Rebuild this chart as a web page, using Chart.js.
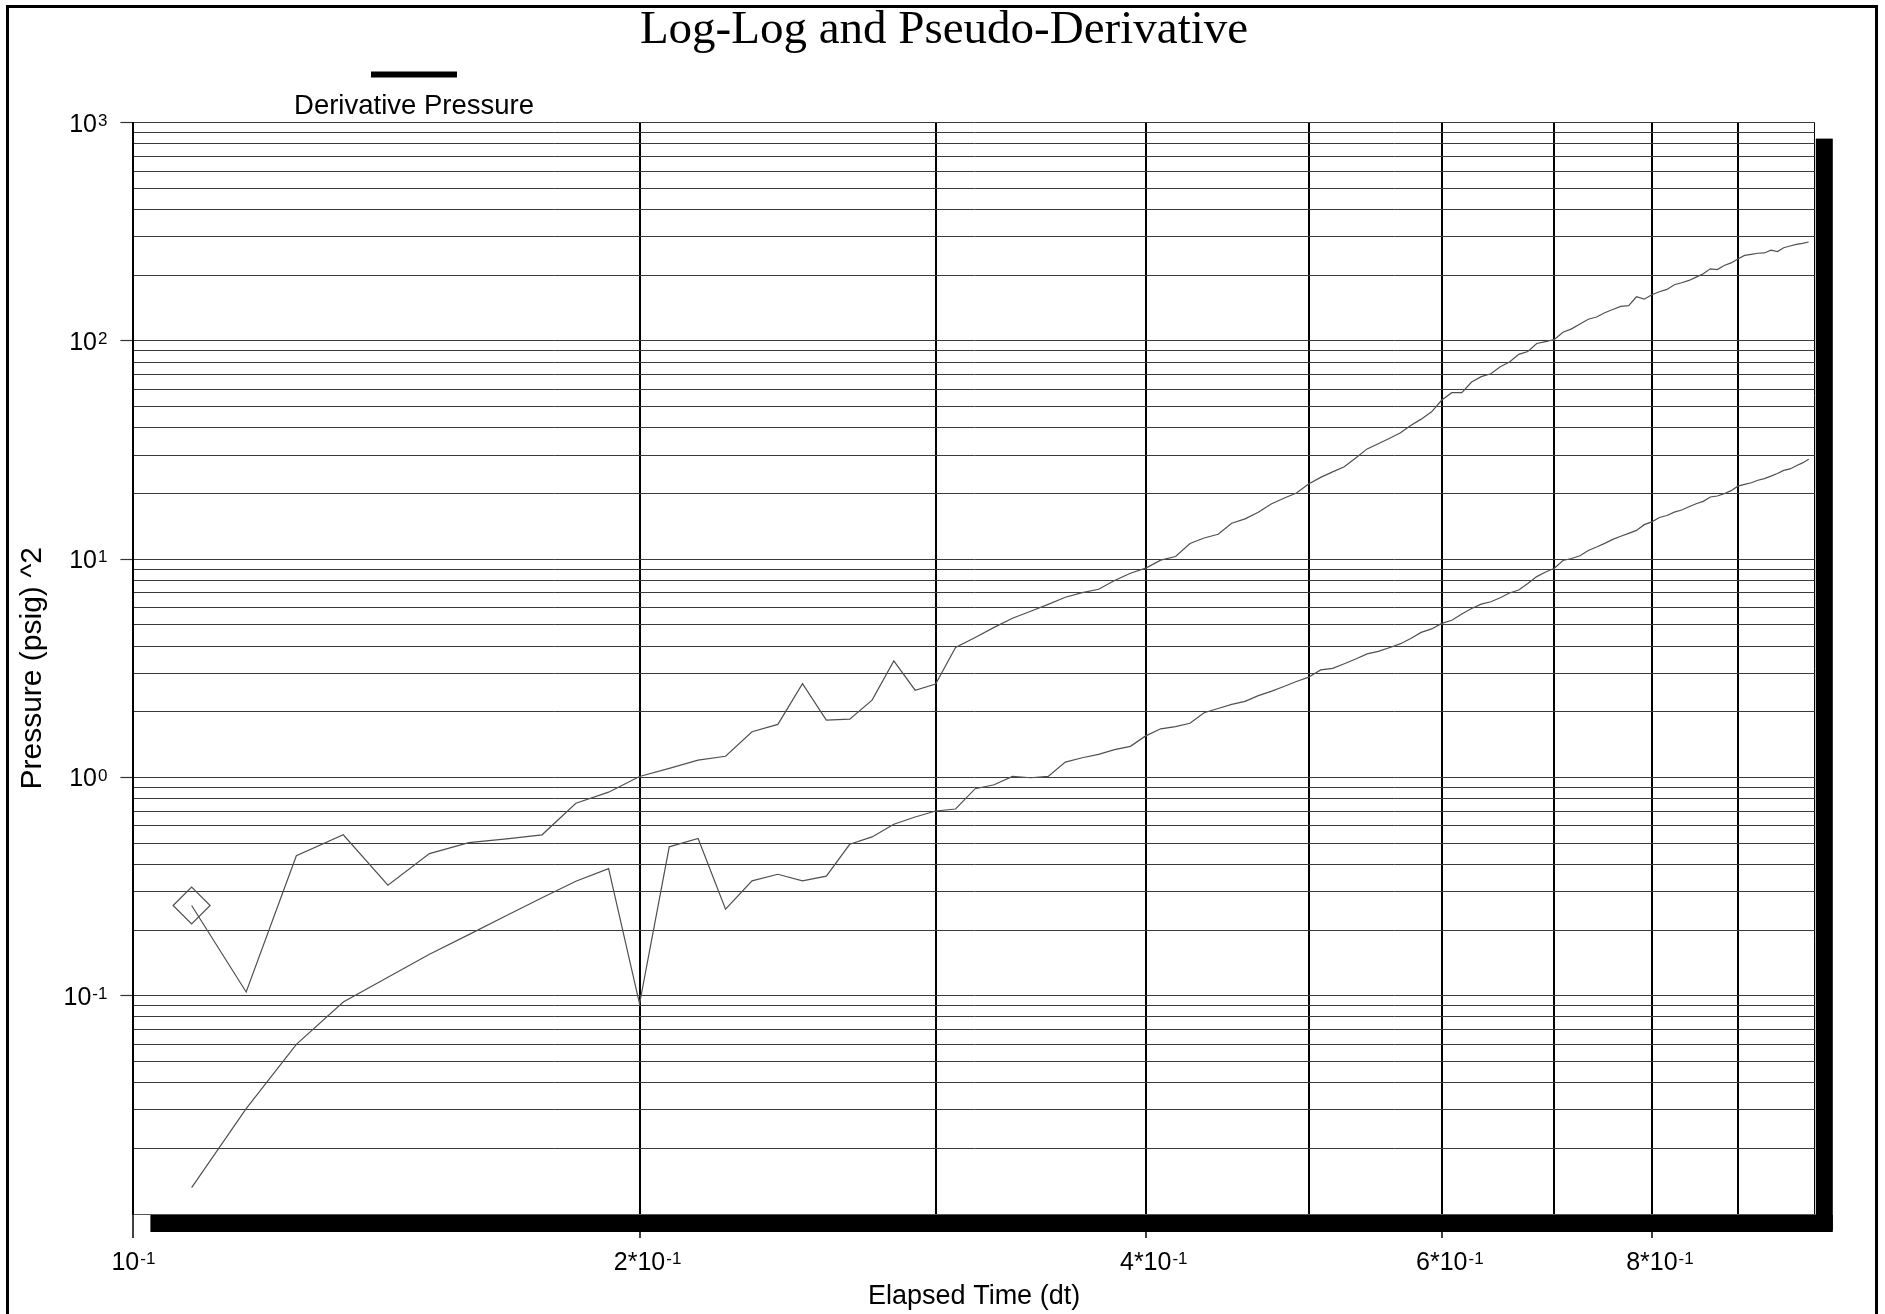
<!DOCTYPE html>
<html>
<head>
<meta charset="utf-8">
<title>Log-Log and Pseudo-Derivative</title>
<script src="https://cdn.jsdelivr.net/npm/chart.js@4.4.1/dist/chart.umd.min.js"></script>
<style>
  html, body { margin: 0; padding: 0; background: #ffffff; }
  canvas { display: block; }
</style>
</head>
<body>
<canvas id="chart" width="1885" height="1314"></canvas>
<script>
// Elapsed time (hours), one reading every 30 s
const elapsedTime = [
  0.1083, 0.1167, 0.1250, 0.1333, 0.1417, 0.1500, 0.1583, 0.1667, 0.1750, 0.1833,
  0.1917, 0.2000, 0.2083, 0.2167, 0.2250, 0.2333, 0.2417, 0.2500, 0.2583, 0.2667,
  0.2750, 0.2833, 0.2917, 0.3000, 0.3083, 0.3167, 0.3250, 0.3333, 0.3417, 0.3500,
  0.3583, 0.3667, 0.3750, 0.3833, 0.3917, 0.4000, 0.4083, 0.4167, 0.4250, 0.4333,
  0.4417, 0.4500, 0.4583, 0.4667, 0.4750, 0.4833, 0.4917, 0.5000, 0.5083, 0.5167,
  0.5250, 0.5333, 0.5417, 0.5500, 0.5583, 0.5667, 0.5750, 0.5833, 0.5917, 0.6000,
  0.6083, 0.6167, 0.6250, 0.6333, 0.6417, 0.6500, 0.6583, 0.6667, 0.6750, 0.6833,
  0.6917, 0.7000, 0.7083, 0.7167, 0.7250, 0.7333, 0.7417, 0.7500, 0.7583, 0.7667,
  0.7750, 0.7833, 0.7917, 0.8000, 0.8083, 0.8167, 0.8250, 0.8333, 0.8417, 0.8500,
  0.8583, 0.8667, 0.8750, 0.8833, 0.8917, 0.9000, 0.9083, 0.9167, 0.9250, 0.9333,
  0.9417, 0.9500, 0.9583, 0.9667, 0.9750, 0.9833, 0.9917
];

// Pressure change (psig)^2
const pressure = [
  0.259, 0.104, 0.438, 0.546, 0.321, 0.448, 0.503, 0.523, 0.546, 0.762,
  0.856, 1.01, 1.10, 1.20, 1.25, 1.62, 1.75, 2.69, 1.83, 1.85,
  2.26, 3.42, 2.51, 2.68, 3.94, 4.38, 4.87, 5.36, 5.77, 6.21,
  6.69, 7.03, 7.28, 7.98, 8.62, 9.10, 9.90, 10.28, 11.8, 12.5,
  13.0, 14.6, 15.3, 16.4, 17.9, 19.0, 20.1, 22.1, 23.7, 25.1,
  26.5, 29.1, 32.0, 33.8, 35.7, 37.8, 41.0, 43.8, 47.3, 53.6,
  57.9, 57.9, 64.8, 68.6, 70.7, 76.1, 80.0, 86.7, 89.4, 97.3,
  99.3, 101.4, 109.6, 113.5, 119.5, 125.6, 128.6, 134.6, 139.3, 143.9,
  144.9, 159.2, 155.3, 162.6, 167.9, 172.1, 180.8, 184.6, 189.2, 195.9,
  202.9, 213.8, 212.3, 221.4, 227.6, 237.3, 246.5, 249.3, 252.0, 252.8,
  260.2, 256.5, 267.2, 272.1, 276.8, 279.8, 283.9
];

// Pseudo-derivative (psig)^2
const derivative = [
  0.0132, 0.0304, 0.0599, 0.0936, 0.1214, 0.155, 0.1905, 0.233, 0.281, 0.3345,
  0.382, 0.0918, 0.481, 0.525, 0.249, 0.336, 0.360, 0.336, 0.353, 0.494,
  0.534, 0.610, 0.659, 0.702, 0.717, 0.888, 0.926, 1.011, 0.997, 1.011,
  1.176, 1.231, 1.276, 1.34, 1.388, 1.55, 1.67, 1.71, 1.77, 1.98,
  2.07, 2.16, 2.23, 2.37, 2.48, 2.61, 2.75, 2.88, 3.11, 3.16,
  3.32, 3.49, 3.68, 3.78, 3.93, 4.09, 4.33, 4.62, 4.79, 5.08,
  5.25, 5.61, 5.94, 6.22, 6.38, 6.66, 7.00, 7.22, 7.74, 8.32,
  8.74, 9.09, 9.86, 10.07, 10.36, 10.96, 11.36, 11.81, 12.32, 12.73,
  13.13, 13.55, 14.39, 14.82, 15.52, 15.85, 16.42, 16.79, 17.38, 17.95,
  18.4, 19.27, 19.47, 19.95, 20.6, 21.6, 22.0, 22.4, 23.0, 23.4,
  24.0, 24.7, 25.5, 25.9, 26.8, 27.6, 28.7
];

// Axis grid and labelled ticks (mantissa part and exponent part)
const xGridValues = [0.1, 0.2, 0.3, 0.4, 0.5, 0.6, 0.7, 0.8, 0.9, 1.0];
const xTickValues = [0.1, 0.2, 0.4, 0.6, 0.8];
const xTickBases = ['10', '2*10', '4*10', '6*10', '8*10'];
const xTickExponents = ['-1', '-1', '-1', '-1', '-1'];
const yDecades = [0.01, 0.1, 1, 10, 100];
const yMantissas = [1, 2, 3, 4, 5, 6, 7, 8, 9];
const yTickValues = [1000, 100, 10, 1, 0.1];
const yTickBases = ['10', '10', '10', '10', '10'];
const yTickExponents = ['3', '2', '1', '0', '-1'];

const chartTitle = 'Log-Log and Pseudo-Derivative';
const legendLabel = 'Derivative Pressure';
const xTitle = 'Elapsed Time (dt)';
const yTitle = 'Pressure (psig) ^2';

const yGridValues = yDecades.flatMap(d => yMantissas.map(m => +(m * d).toPrecision(6))).concat([1000]);

function indexOfTick(list, v) {
  return list.findIndex(t => Math.abs(t - v) <= 1e-9 * t);
}

const SANS = "'Liberation Sans', Arial, sans-serif";
const SERIF = "'Liberation Serif', 'Times New Roman', serif";
const BASE_SIZE = 25;
const EXP_SIZE = 17;

// Draws "base^exp" with the exponent raised to the cap line of the base.
// anchorX is interpreted according to mode: 'right' (right edge of whole label),
// 'center' (centre of whole label) or 'base' (centre of the base part).
function drawPowerLabel(ctx, base, exp, anchorX, capMidY, mode) {
  ctx.font = BASE_SIZE + 'px ' + SANS;
  const wb = ctx.measureText(base).width;
  ctx.font = EXP_SIZE + 'px ' + SANS;
  const we = ctx.measureText(exp).width;
  const gap = 1;
  let left;
  if (mode === 'right') left = anchorX - (wb + gap + we);
  else if (mode === 'base') left = anchorX - wb / 2;
  else left = anchorX - (wb + gap + we) / 2;
  const capB = 0.716 * BASE_SIZE;
  const capE = 0.716 * EXP_SIZE;
  const baseLine = capMidY + capB / 2;
  ctx.textAlign = 'left';
  ctx.textBaseline = 'alphabetic';
  ctx.font = BASE_SIZE + 'px ' + SANS;
  ctx.fillText(base, left, baseLine);
  ctx.font = EXP_SIZE + 'px ' + SANS;
  ctx.fillText(exp, left + wb + gap, baseLine - capB + capE);
}

// Page frame, drop shadow under the plot area, title, legend and tick labels
const framePlugin = {
  id: 'frame',
  beforeDraw(chart) {
    const { ctx, chartArea: a } = chart;
    ctx.save();
    ctx.fillStyle = '#ffffff';
    ctx.fillRect(0, 0, chart.width, chart.height);
    ctx.strokeStyle = '#000000';
    ctx.lineWidth = 3;
    ctx.strokeRect(7.5, 6.5, 1869, 1330);
    ctx.fillStyle = '#000000';
    const off = 17, thick = 17;
    ctx.fillRect(a.right + 1, a.top + 16, thick, a.bottom - a.top);
    ctx.fillRect(a.left + off, a.bottom + 1, a.right - a.left + 1, thick);
    ctx.restore();
  },
  afterDraw(chart) {
    const { ctx, chartArea: a } = chart;
    const xs = chart.scales.x, ys = chart.scales.y;
    ctx.save();
    ctx.fillStyle = '#000000';
    // title
    ctx.font = '47px ' + SERIF;
    ctx.textAlign = 'center';
    ctx.textBaseline = 'alphabetic';
    ctx.fillText(chartTitle, 944, 43);
    // legend swatch and label
    ctx.strokeStyle = '#000000';
    ctx.lineWidth = 6;
    ctx.beginPath();
    ctx.moveTo(371, 74.5);
    ctx.lineTo(457, 74.5);
    ctx.stroke();
    ctx.font = '27.5px ' + SANS;
    ctx.textBaseline = 'middle';
    ctx.fillText(legendLabel, 414, 106);
    // y tick labels
    yTickValues.forEach((v, i) => {
      drawPowerLabel(ctx, yTickBases[i], yTickExponents[i], a.left - 26, ys.getPixelForValue(v), 'right');
    });
    // x tick labels
    xTickValues.forEach((v, i) => {
      const mode = xTickBases[i].indexOf('*') >= 0 ? 'base' : 'center';
      drawPowerLabel(ctx, xTickBases[i], xTickExponents[i], xs.getPixelForValue(v), a.bottom + 47, mode);
    });
    ctx.restore();
  }
};

const lineColor = '#505050';

new Chart(document.getElementById('chart'), {
  type: 'scatter',
  data: {
    datasets: [
      {
        label: 'Pressure',
        data: elapsedTime.map((t, i) => ({ x: t, y: pressure[i] })),
        showLine: true,
        borderColor: lineColor,
        borderWidth: 1.2,
        tension: 0,
        pointStyle: 'rectRot',
        pointRadius: ctx => ctx.dataIndex === 0 ? 18.5 : 0,
        pointHoverRadius: 0,
        pointBorderColor: lineColor,
        pointBorderWidth: 1.2,
        pointBackgroundColor: 'rgba(0,0,0,0)'
      },
      {
        label: 'Derivative',
        data: elapsedTime.map((t, i) => ({ x: t, y: derivative[i] })),
        showLine: true,
        borderColor: lineColor,
        borderWidth: 1.2,
        tension: 0,
        pointRadius: 0,
        pointHoverRadius: 0
      }
    ]
  },
  options: {
    responsive: false,
    animation: false,
    events: [],
    layout: { padding: { top: 122.6, right: 70.2, bottom: 0, left: 0 } },
    plugins: {
      legend: { display: false },
      title: { display: false },
      tooltip: { enabled: false }
    },
    scales: {
      x: {
        type: 'logarithmic',
        position: 'bottom',
        min: 0.1,
        max: 1.0,
        afterBuildTicks: s => { s.ticks = xGridValues.map(v => ({ value: v })); },
        afterFit: s => { s.height = 100; },
        border: { display: true, color: '#555555', width: 1 },
        grid: {
          color: '#000000',
          lineWidth: ctx => (ctx.tick && Math.abs(ctx.tick.value - 1) < 1e-9) ? 1 : 2,
          drawTicks: true,
          tickLength: 24,
          tickWidth: 1.5,
          tickColor: ctx => (ctx.tick && indexOfTick(xTickValues, ctx.tick.value) >= 0) ? '#000000' : 'rgba(0,0,0,0)'
        },
        ticks: { display: false, autoSkip: false },
        title: {
          display: true,
          text: xTitle,
          color: '#000000',
          font: { family: SANS, size: 27 },
          padding: { top: 0, bottom: 1 }
        }
      },
      y: {
        type: 'logarithmic',
        position: 'left',
        min: 0.01,
        max: 1000,
        afterBuildTicks: s => { s.ticks = yGridValues.map(v => ({ value: v })); },
        afterFit: s => { s.width = 133.4; },
        border: { display: true, color: '#000000', width: 2 },
        grid: {
          color: '#3a3a3a',
          lineWidth: 1,
          drawTicks: true,
          tickLength: 13,
          tickWidth: 1.2,
          tickColor: ctx => (ctx.tick && indexOfTick(yTickValues, ctx.tick.value) >= 0) ? '#333333' : 'rgba(0,0,0,0)'
        },
        ticks: { display: false, autoSkip: false },
        title: {
          display: true,
          text: yTitle,
          color: '#000000',
          font: { family: SANS, size: 30 },
          padding: { top: 15, bottom: 0 }
        }
      }
    }
  },
  plugins: [framePlugin]
});
</script>
</body>
</html>
